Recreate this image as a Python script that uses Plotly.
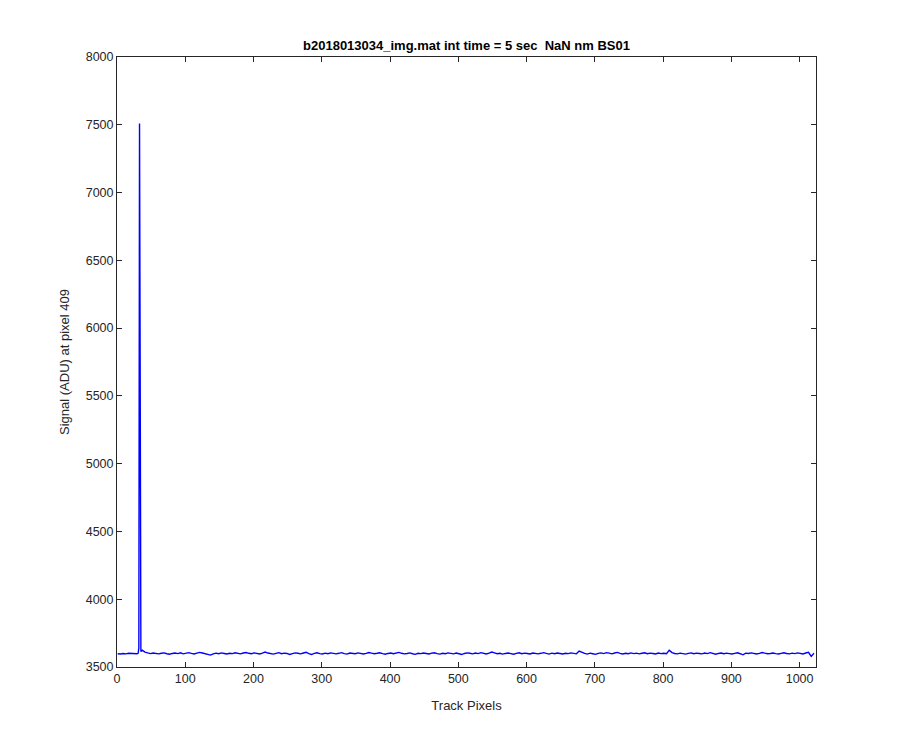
import plotly.graph_objects as go

# Baseline signal, sampled every 4 track pixels starting at pixel 1
base_start = 1
base_step = 4
baseline_signal = [
    3598,3596,3600,3597,3601,3599,3595,3598,3602,3624,3610,3604,3599,3603,3600,3597,
    3601,3604,3598,3594,3600,3603,3599,3605,3597,3601,3606,3600,3596,3602,3608,3603,
    3599,3595,3588,3597,3602,3598,3604,3600,3596,3601,3599,3605,3602,3597,3603,3607,
    3601,3598,3604,3600,3596,3602,3610,3603,3599,3595,3601,3606,3598,3602,3600,3593,
    3599,3604,3601,3597,3603,3609,3598,3592,3600,3605,3599,3596,3602,3598,3604,3600,
    3597,3601,3606,3599,3595,3603,3600,3598,3604,3601,3596,3600,3607,3602,3598,3601,
    3605,3599,3594,3600,3603,3598,3602,3608,3601,3597,3600,3604,3598,3593,3601,3599,
    3603,3600,3596,3602,3605,3599,3595,3601,3598,3604,3600,3597,3603,3599,3592,3600,
    3604,3601,3597,3603,3599,3606,3601,3596,3602,3610,3604,3598,3601,3595,3600,3603,
    3599,3594,3601,3605,3598,3602,3600,3596,3603,3599,3597,3601,3606,3600,3595,3602,
    3598,3603,3600,3596,3601,3599,3604,3600,3597,3618,3606,3600,3595,3602,3598,3593,
    3601,3604,3599,3606,3602,3597,3603,3608,3600,3596,3601,3598,3604,3599,3602,3597,
    3601,3605,3598,3602,3600,3596,3603,3599,3601,3598,3624,3606,3600,3597,3602,3599,
    3595,3601,3604,3598,3602,3600,3597,3603,3599,3606,3601,3594,3600,3603,3598,3602,
    3599,3596,3601,3605,3598,3590,3602,3600,3604,3599,3596,3601,3607,3602,3598,3600,
    3603,3599,3596,3601,3605,3600,3597,3602,3599,3604,3600,3596,3603,3608,3578,3601,
]
# Spike near pixel 33
spike_x = [31, 32, 33, 34, 35]
spike_y = [3601, 3640, 7510, 3660, 3615]

points = {base_start + i * base_step: v for i, v in enumerate(baseline_signal)}
for sx, sy in zip(spike_x, spike_y):
    points[sx] = sy
xs = sorted(points)
ys = [points[k] for k in xs]

title_text = "b2018013034_img.mat int time = 5 sec  NaN nm BS01"
x_label = "Track Pixels"
y_label = "Signal (ADU) at pixel 409"
x_ticks = [0, 100, 200, 300, 400, 500, 600, 700, 800, 900, 1000]
y_ticks = [3500, 4000, 4500, 5000, 5500, 6000, 6500, 7000, 7500, 8000]

fig = go.Figure(go.Scatter(x=xs, y=ys, mode="lines",
                           line=dict(color="#0000ff", width=1.4)))

axis_common = dict(showgrid=False, zeroline=False, showline=True, mirror="ticks",
                   linecolor="#262626", linewidth=1, ticks="inside", ticklen=5,
                   tickcolor="#262626", tickfont=dict(size=12.5, color="#262626"))

W, H = 884, 734
L, R, T, B = 109, 76, 49, 75

fig.update_layout(
    width=W, height=H,
    margin=dict(l=L, r=R, t=T, b=B),
    paper_bgcolor="white", plot_bgcolor="white",
    font=dict(family="Liberation Sans, Arial, sans-serif", color="#262626", size=12),
    showlegend=False,
    title=dict(text="<b>" + title_text + "</b>", x=(L + (W - R)) / 2 / W, xanchor="center",
               y=1 - 37 / H, yanchor="middle", font=dict(size=13, color="#000000")),
    xaxis=dict(range=[0, 1024], tickvals=x_ticks,
               title=dict(text=x_label, font=dict(size=13), standoff=15), **axis_common),
    yaxis=dict(range=[3500, 8000], tickvals=y_ticks,
               title=dict(text=y_label, font=dict(size=13), standoff=13), **axis_common),
)

fig.write_html("out.html")
